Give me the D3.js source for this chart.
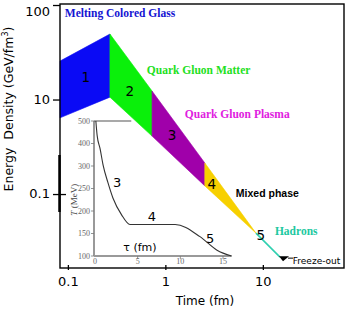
<!DOCTYPE html>
<html>
<head>
<meta charset="utf-8">
<script src="https://cdn.jsdelivr.net/npm/d3@7"></script>
<style>
  body { margin: 0; background: #fff; }
  svg { display: block; }
</style>
</head>
<body>
<div id="chart"></div>
<script>
// Phase boundaries (fm) and the upper / lower edge of the band (GeV/fm^3)
var phaseTimes = [0.083, 0.27, 0.73, 2.54, 8.5];
var upperEdge = [25.5, 49.3, 12.3, 2.13, 0.386];
var lowerEdge = [6.4, 10.6, 4.1, 1.22, 0.386];
var phaseColors = ["#0a0af5", "#0af00a", "#a000aa", "#f7d000"];
var phaseNumbers = ["1", "2", "3", "4", "5"];

// Hadron gas line up to freeze-out
var hadronTimes = [8.5, 15];
var hadronE = [0.386, 0.215];

var xTicks = [0.1, 1, 10];
var xTickLabels = ["0.1", "1", "10"];
var yTicks = [100, 10, 1];
var yTickLabels = ["100", "10", "0.1"];

// Inset: temperature vs proper time
var insetTau = [0.1, 0.25, 0.6, 0.95, 1.5, 2.1, 3.1, 4.1, 9.4, 12.3, 14.3, 16.0];
var insetT = [400, 368, 338, 302, 264, 229, 192, 170, 170, 143, 113, 100];
var insetTauTicks = [0, 5, 10, 15];
var insetTTicks = [100, 150, 200, 250, 300, 350, 400];
var insetTTickLabels = ["100", "150", "200", "250", "300", "400", "500"];

var width = 346, height = 311;
var sans = "DejaVu Sans, Verdana, sans-serif";
var serif = "Liberation Serif, Times New Roman, serif";

var svg = d3.select("#chart")
    .append("svg")
    .attr("width", width)
    .attr("height", height);

// Main scales
var x = d3.scaleLog().domain([0.083, 68]).range([60, 344]);
var y = d3.scaleLog().domain([0.165, 102.5]).range([268, 4]);

// Phase polygons
var polys = d3.range(phaseColors.length).map(function (i) {
    return [
        [phaseTimes[i], upperEdge[i]],
        [phaseTimes[i + 1], upperEdge[i + 1]],
        [phaseTimes[i + 1], lowerEdge[i + 1]],
        [phaseTimes[i], lowerEdge[i]]
    ];
});

svg.selectAll(".phase")
    .data(polys)
    .enter()
    .append("polygon")
    .attr("class", "phase")
    .attr("points", function (d) {
        return d.map(function (p) { return x(p[0]) + "," + y(p[1]); }).join(" ");
    })
    .attr("fill", function (d, i) { return phaseColors[i]; })
    .attr("stroke", function (d, i) { return phaseColors[i]; })
    .attr("stroke-width", 0.6);

// Hadron line
var hadronLine = d3.line()
    .x(function (d) { return x(d[0]); })
    .y(function (d) { return y(d[1]); });

svg.append("path")
    .attr("d", hadronLine(d3.zip(hadronTimes, hadronE)))
    .attr("fill", "none")
    .attr("stroke", "#30d0b0")
    .attr("stroke-width", 1.6);

// Freeze-out arrow head
var fx = x(hadronTimes[1]), fy = y(hadronE[1]);
svg.append("path")
    .attr("d", "M" + (fx - 1) + "," + (fy - 1) + "L" + (fx + 9) + "," + (fy - 1) +
        "L" + (fx + 3) + "," + (fy + 4) + "Z")
    .attr("fill", "#000");
svg.append("line")
    .attr("x1", fx + 8).attr("x2", fx + 13)
    .attr("y1", fy + 1).attr("y2", fy + 1)
    .attr("stroke", "#000");

// Phase numbers
var numberPos = [[0.153, 17.3], [0.432, 12.3], [1.17, 4.21], [3.0, 1.28], [9.53, 0.368]];
svg.selectAll(".num")
    .data(phaseNumbers)
    .enter()
    .append("text")
    .attr("class", "num")
    .attr("x", function (d, i) { return x(numberPos[i][0]); })
    .attr("y", function (d, i) { return y(numberPos[i][1]); })
    .attr("text-anchor", "middle")
    .attr("dominant-baseline", "central")
    .style("font", "13.5px " + sans)
    .style("fill", "#000")
    .text(function (d) { return d; });

// Phase names
var names = [
    { text: "Melting Colored Glass", t: 0.093, e: 74.6, color: "#1414d2", font: "bold 11.5px " + serif },
    { text: "Quark Gluon Matter", t: 0.646, e: 18.6, color: "#22e022", font: "bold 11.5px " + serif },
    { text: "Quark Gluon Plasma", t: 1.585, e: 6.37, color: "#e020e0", font: "bold 11.5px " + serif },
    { text: "Mixed phase", t: 5.28, e: 0.929, color: "#000", font: "bold 10.5px Liberation Sans, Arial, sans-serif" },
    { text: "Hadrons", t: 13.3, e: 0.368, color: "#20c8a0", font: "bold 11.5px " + serif },
    { text: "Freeze-out", t: 20.3, e: 0.18, color: "#000", font: "9px " + sans }
];
svg.selectAll(".name")
    .data(names)
    .enter()
    .append("text")
    .attr("class", "name")
    .attr("x", function (d) { return x(d.t); })
    .attr("y", function (d) { return y(d.e); })
    .style("font", function (d) { return d.font; })
    .style("fill", function (d) { return d.color; })
    .text(function (d) { return d.text; });

// Frame
svg.append("rect")
    .attr("x", 60).attr("y", 4)
    .attr("width", 284).attr("height", 264)
    .attr("fill", "none")
    .attr("stroke", "#000")
    .attr("stroke-width", 1.4);

// Thick piece on the y axis
svg.append("line")
    .attr("x1", 59.5).attr("x2", 59.5)
    .attr("y1", 155).attr("y2", 212)
    .attr("stroke", "#000")
    .attr("stroke-width", 2.5);

// X axis
var xAxis = svg.append("g")
    .attr("transform", "translate(0,268)")
    .call(d3.axisBottom(x)
        .tickValues(xTicks)
        .tickFormat(function (d, i) { return xTickLabels[i]; })
        .tickSize(2)
        .tickPadding(7));
xAxis.select(".domain").remove();
xAxis.selectAll(".tick line").attr("y1", -3).attr("stroke-width", 1.3);
xAxis.selectAll("text").style("font", "13px " + sans).style("fill", "#000");

// Y axis
var yAxis = svg.append("g")
    .attr("transform", "translate(60,0)")
    .call(d3.axisLeft(y)
        .tickValues(yTicks)
        .tickFormat(function (d, i) { return yTickLabels[i]; })
        .tickSize(7)
        .tickPadding(3));
yAxis.select(".domain").remove();
yAxis.selectAll(".tick line").attr("stroke-width", 1.3)
    .filter(function (d) { return d === 1; })
    .attr("x1", 6);
yAxis.selectAll("text").style("font", "13px " + sans).style("fill", "#000")
    .attr("dy", "0.3em")
    .filter(function (d) { return d === 100; })
    .attr("dy", "0.8em");

// Axis titles
svg.append("text")
    .attr("x", 205).attr("y", 305)
    .attr("text-anchor", "middle")
    .style("font", "12px " + sans)
    .text("Time (fm)");

var yTitle = svg.append("text")
    .attr("transform", "translate(13,109) rotate(-90)")
    .attr("text-anchor", "middle")
    .style("font", "12.5px " + sans);
yTitle.append("tspan").text("Energy\u00a0 Density (GeV/fm");
yTitle.append("tspan").attr("dy", -5).style("font-size", "8px").text("3");
yTitle.append("tspan").attr("dy", 5).text(")");

// ---- Inset ----
var tau = d3.scaleLinear().domain([0, 15]).range([95, 223]);
var temp = d3.scaleLinear().domain([100, 400]).range([256, 121]);

var inset = svg.append("g").attr("class", "inset");

inset.append("line")
    .attr("x1", tau(0) - 1).attr("x2", tau(0) - 1)
    .attr("y1", temp(400)).attr("y2", temp(100))
    .attr("stroke", "#555").attr("stroke-width", 1.2);
inset.append("line")
    .attr("x1", tau(0) - 1).attr("x2", tau(4.25))
    .attr("y1", temp(400)).attr("y2", temp(400))
    .attr("stroke", "#555").attr("stroke-width", 1.2);
inset.append("line")
    .attr("x1", tau(0) - 1).attr("x2", tau(16))
    .attr("y1", temp(100)).attr("y2", temp(100))
    .attr("stroke", "#999").attr("stroke-width", 2);

var tLine = d3.line()
    .x(function (d) { return tau(d[0]); })
    .y(function (d) { return temp(d[1]); })
    .curve(d3.curveMonotoneX);

inset.append("path")
    .attr("d", tLine(d3.zip(insetTau, insetT)))
    .attr("fill", "none")
    .attr("stroke", "#333")
    .attr("stroke-width", 1.1);

inset.selectAll(".ytl")
    .data(insetTTicks)
    .enter()
    .append("text")
    .attr("class", "ytl")
    .attr("x", tau(0) - 5)
    .attr("y", function (d) { return temp(d); })
    .attr("text-anchor", "end")
    .attr("dominant-baseline", "central")
    .style("font", "8px " + serif)
    .style("fill", "#666")
    .text(function (d, i) { return insetTTickLabels[i]; });

inset.selectAll(".ytk")
    .data(insetTTicks)
    .enter()
    .append("line")
    .attr("x1", tau(0) - 4).attr("x2", tau(0) - 1)
    .attr("y1", function (d) { return temp(d); })
    .attr("y2", function (d) { return temp(d); })
    .attr("stroke", "#777").attr("stroke-width", 0.8);

inset.selectAll(".xtl")
    .data(insetTauTicks)
    .enter()
    .append("text")
    .attr("class", "xtl")
    .attr("x", function (d) { return tau(d); })
    .attr("y", temp(100) + 8)
    .attr("text-anchor", "middle")
    .style("font", "8px " + serif)
    .style("fill", "#666")
    .text(function (d) { return d; });

inset.selectAll(".xtk")
    .data(insetTauTicks.slice(1))
    .enter()
    .append("line")
    .attr("x1", function (d) { return tau(d); })
    .attr("x2", function (d) { return tau(d); })
    .attr("y1", temp(100)).attr("y2", temp(100) + 3)
    .attr("stroke", "#777").attr("stroke-width", 0.8);

var insetNums = [[2.58, 264, "3"], [6.68, 187, "4"], [13.5, 140, "5"]];
inset.selectAll(".inum")
    .data(insetNums)
    .enter()
    .append("text")
    .attr("x", function (d) { return tau(d[0]); })
    .attr("y", function (d) { return temp(d[1]); })
    .attr("text-anchor", "middle")
    .attr("dominant-baseline", "central")
    .style("font", "13px " + sans)
    .text(function (d) { return d[2]; });

inset.append("text")
    .attr("x", tau(5.27)).attr("y", temp(120))
    .attr("text-anchor", "middle")
    .attr("dominant-baseline", "central")
    .style("font", "11px " + sans)
    .text("\u03c4 (fm)");

var tTitle = inset.append("text")
    .attr("transform", "translate(" + (tau(0) - 21) + "," + temp(225) + ") rotate(-90)")
    .attr("text-anchor", "middle")
    .attr("dominant-baseline", "central")
    .style("font", "9px " + serif)
    .style("fill", "#444");
tTitle.append("tspan").style("font-style", "italic").text("T");
tTitle.append("tspan").text(" (MeV)");
</script>
</body>
</html>
